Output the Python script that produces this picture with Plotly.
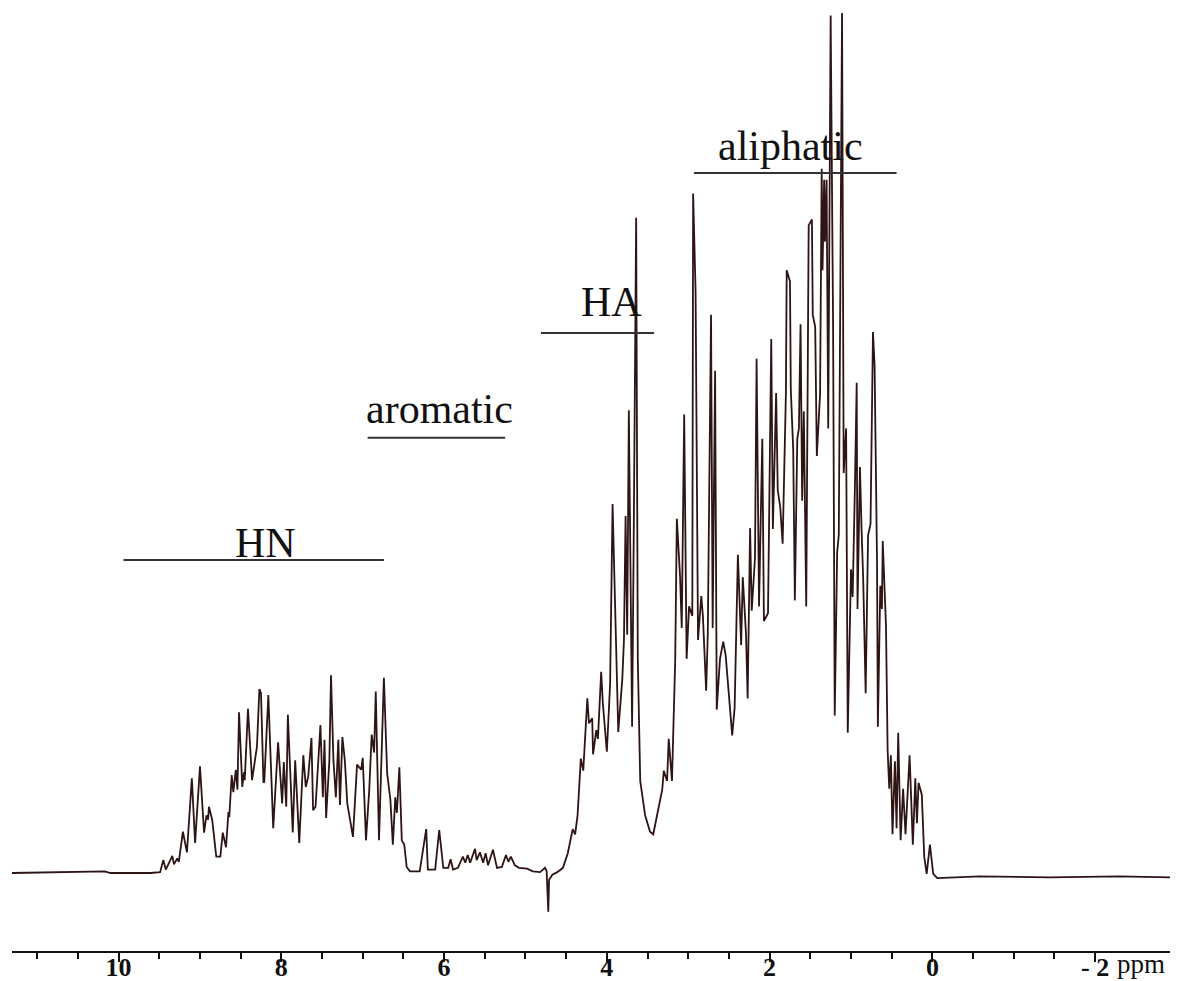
import plotly.graph_objects as go

# 1H NMR spectrum trace (chemical shift, ppm; relative intensity)
ppm = [
    11.31, 10.77, 10.17, 10.10, 9.61, 9.49, 9.45, 9.42, 9.34, 9.32,
    9.28, 9.26, 9.21, 9.16, 9.10, 9.06, 9.00, 8.95, 8.92, 8.90,
    8.89, 8.85, 8.80, 8.75, 8.72, 8.68, 8.65, 8.64, 8.61, 8.59,
    8.56, 8.54, 8.52, 8.48, 8.46, 8.45, 8.41, 8.36, 8.32, 8.30,
    8.27, 8.25, 8.22, 8.21, 8.16, 8.10, 8.04, 7.99, 7.97, 7.94,
    7.92, 7.88, 7.86, 7.83, 7.78, 7.73, 7.70, 7.67, 7.63, 7.61,
    7.58, 7.52, 7.49, 7.47, 7.45, 7.41, 7.39, 7.36, 7.33, 7.30,
    7.28, 7.25, 7.22, 7.19, 7.12, 7.07, 7.02, 7.00, 6.96, 6.92,
    6.89, 6.86, 6.84, 6.80, 6.74, 6.70, 6.66, 6.63, 6.60, 6.58,
    6.55, 6.52, 6.49, 6.46, 6.42, 6.30, 6.22, 6.20, 6.11, 6.06,
    6.01, 5.95, 5.92, 5.89, 5.83, 5.77, 5.74, 5.71, 5.68, 5.62,
    5.60, 5.56, 5.52, 5.49, 5.46, 5.40, 5.35, 5.29, 5.24, 5.21,
    5.18, 5.13, 5.08, 4.98, 4.91, 4.82, 4.76, 4.74, 4.72, 4.71,
    4.67, 4.61, 4.54, 4.48, 4.42, 4.39, 4.36, 4.32, 4.29, 4.24,
    4.22, 4.18, 4.17, 4.13, 4.11, 4.07, 4.05, 4.00, 3.96, 3.93,
    3.90, 3.86, 3.81, 3.79, 3.77, 3.75, 3.73, 3.70, 3.69, 3.67,
    3.64, 3.62, 3.59, 3.53, 3.47, 3.43, 3.37, 3.32, 3.30, 3.26,
    3.24, 3.20, 3.16, 3.14, 3.10, 3.08, 3.05, 3.02, 2.99, 2.95,
    2.94, 2.91, 2.88, 2.84, 2.82, 2.78, 2.76, 2.73, 2.72, 2.70,
    2.67, 2.65, 2.61, 2.57, 2.54, 2.46, 2.43, 2.39, 2.35, 2.33,
    2.29, 2.27, 2.24, 2.22, 2.18, 2.16, 2.13, 2.09, 2.07, 2.02,
    1.98, 1.96, 1.92, 1.90, 1.87, 1.84, 1.80, 1.79, 1.75, 1.74,
    1.71, 1.69, 1.66, 1.64, 1.62, 1.60, 1.58, 1.55, 1.52, 1.48,
    1.47, 1.44, 1.42, 1.38, 1.36, 1.35, 1.33, 1.32, 1.30, 1.28,
    1.25, 1.22, 1.20, 1.17, 1.15, 1.11, 1.09, 1.06, 1.04, 1.00,
    0.98, 0.95, 0.93, 0.92, 0.89, 0.87, 0.85, 0.82, 0.79, 0.76,
    0.73, 0.71, 0.68, 0.67, 0.64, 0.62, 0.61, 0.57, 0.55, 0.53,
    0.51, 0.49, 0.46, 0.44, 0.42, 0.39, 0.36, 0.33, 0.28, 0.24,
    0.21, 0.19, 0.17, 0.13, 0.10, 0.07, 0.03, -0.01, -0.06, -0.58,
    -1.44, -2.30, -2.92,
]
intensity = [
    0.0, 0.1, 0.2, 0.0, 0.0, 0.1, 1.5, 0.4, 2.0, 1.0,
    1.7, 1.3, 4.8, 2.4, 11.0, 3.5, 12.4, 4.7, 6.7, 6.2,
    7.7, 6.2, 1.9, 1.9, 4.7, 3.0, 7.1, 6.5, 11.4, 9.4,
    12.0, 9.7, 18.7, 10.0, 11.7, 10.8, 19.1, 10.8, 13.5, 14.7,
    21.4, 20.9, 10.5, 10.6, 20.7, 5.2, 15.2, 8.1, 12.9, 7.7,
    18.4, 8.1, 4.7, 13.1, 3.5, 13.7, 10.0, 11.2, 15.7, 7.3,
    7.7, 17.2, 8.8, 15.5, 6.4, 13.1, 23.0, 13.1, 8.8, 15.5,
    7.9, 15.8, 13.1, 8.1, 4.2, 12.6, 12.0, 13.4, 3.8, 9.7,
    16.1, 14.0, 21.1, 3.8, 22.7, 11.6, 8.5, 3.3, 8.8, 7.0,
    12.3, 3.8, 3.3, 0.7, 0.2, 0.2, 5.1, 0.4, 0.4, 5.0,
    0.6, 0.6, 1.6, 0.4, 0.6, 1.9, 1.2, 2.1, 1.2, 2.8,
    1.5, 2.4, 1.2, 2.3, 0.9, 2.7, 0.6, 0.7, 2.1, 1.3,
    1.9, 0.9, 0.6, 0.5, 0.2, 0.1, 0.6, 0.2, -4.5, -0.8,
    -0.2, 0.1, 0.6, 2.3, 5.1, 4.5, 6.7, 13.3, 11.9, 20.3,
    17.4, 18.0, 13.8, 16.6, 15.6, 23.4, 19.8, 14.1, 22.0, 42.9,
    30.5, 16.4, 22.6, 27.1, 41.5, 27.7, 53.8, 27.7, 17.0, 39.0,
    76.2, 24.9, 10.7, 6.7, 4.8, 4.5, 7.3, 9.7, 11.9, 10.7,
    15.6, 10.7, 24.9, 41.2, 34.4, 28.5, 53.3, 24.9, 31.0, 29.9,
    79.0, 67.7, 27.1, 32.2, 29.9, 21.2, 27.7, 51.9, 64.9, 28.5,
    58.4, 19.0, 24.9, 26.9, 25.3, 16.0, 19.2, 37.0, 26.5, 34.4,
    27.7, 20.3, 40.1, 30.5, 36.6, 59.8, 31.0, 50.5, 29.3, 30.2,
    62.1, 40.0, 55.8, 44.5, 42.6, 38.3, 55.7, 70.1, 68.8, 56.3,
    49.2, 31.7, 50.5, 51.7, 63.8, 43.3, 53.7, 31.0, 75.3, 76.0,
    64.9, 63.5, 48.5, 55.7, 81.9, 70.1, 80.6, 73.4, 80.6, 51.7,
    99.7, 63.5, 18.3, 37.3, 39.3, 100.0, 46.5, 51.7, 16.3, 35.3,
    32.1, 45.8, 57.0, 30.7, 47.2, 39.9, 34.1, 20.9, 39.3, 40.6,
    62.9, 59.0, 36.0, 17.0, 33.4, 30.7, 38.6, 28.7, 14.3, 9.8,
    13.7, 4.5, 13.0, 5.2, 16.3, 3.8, 9.8, 4.5, 13.7, 3.3,
    11.0, 5.8, 10.5, 9.1, 1.9, -0.1, 3.3, -0.1, -0.6, -0.4,
    -0.5, -0.4, -0.5,
]

# Region annotations
region_labels = ["HN", "aromatic", "HA", "aliphatic"]
region_start = [9.94, 6.94, 4.81, 2.93]
region_end = [6.74, 5.25, 3.42, 0.44]
region_level = [36.4, 50.6, 62.8, 81.4]
label_ppm = [8.20, 6.06, 3.94, 1.74]
label_level = [38.4, 54.0, 66.4, 84.5]

major_ticks = [10, 8, 6, 4, 2, 0, -2]
major_text = ["10", "8", "6", "4", "2", "0", "- 2"]
minor_ticks = [11, 10.5, 9.5, 9, 8.5, 7.5, 7, 6.5, 5.5, 5, 4.5, 3.5, 3, 2.5,
               1.5, 1, 0.5, -0.5, -1, -1.5]

SERIF = "Liberation Serif, Times New Roman, serif"

fig = go.Figure()
fig.add_trace(go.Scatter(
    x=ppm, y=intensity, mode="lines",
    line=dict(color="#2e1414", width=1.8),
    hoverinfo="skip", showlegend=False, cliponaxis=False,
))

shapes = []
annotations = []
for lab, x0, x1, lev, lx, ly in zip(region_labels, region_start, region_end,
                                     region_level, label_ppm, label_level):
    shapes.append(dict(type="line", xref="x", yref="y", x0=x0, x1=x1, y0=lev, y1=lev,
                       line=dict(color="#333333", width=2)))
    annotations.append(dict(x=lx, y=ly, xref="x", yref="y", text=lab, showarrow=False,
                            xanchor="center", yanchor="middle",
                            font=dict(family=SERIF, size=42, color="#111111")))

annotations.append(dict(x=-2.25, y=-0.014, xref="x", yref="paper", text="ppm",
                        showarrow=False, xanchor="left", yanchor="middle",
                        font=dict(family=SERIF, size=27, color="#111111")))

fig.update_layout(
    width=1179, height=981,
    margin=dict(l=12, r=9, t=10, b=30, autoexpand=False),
    paper_bgcolor="white", plot_bgcolor="white",
    shapes=shapes, annotations=annotations,
    showlegend=False,
)
fig.update_xaxes(
    range=[11.31, -2.92], showgrid=False, zeroline=False, automargin=False,
    showline=True, linecolor="#111111", linewidth=1.5,
    tickmode="array", tickvals=major_ticks, ticktext=major_text,
    ticks="outside", ticklen=9, tickwidth=1.5, tickcolor="#111111",
    ticklabelstandoff=-17,
    tickfont=dict(family=SERIF, size=26, color="#111111", weight="bold"),
    minor=dict(tickmode="array", tickvals=minor_ticks, ticks="outside",
               ticklen=6, tickwidth=1.5, tickcolor="#111111", showgrid=False),
)
fig.update_yaxes(range=[-9.07, 100.35], visible=False, showgrid=False, zeroline=False,
                 automargin=False)

fig.write_html("out.html")
